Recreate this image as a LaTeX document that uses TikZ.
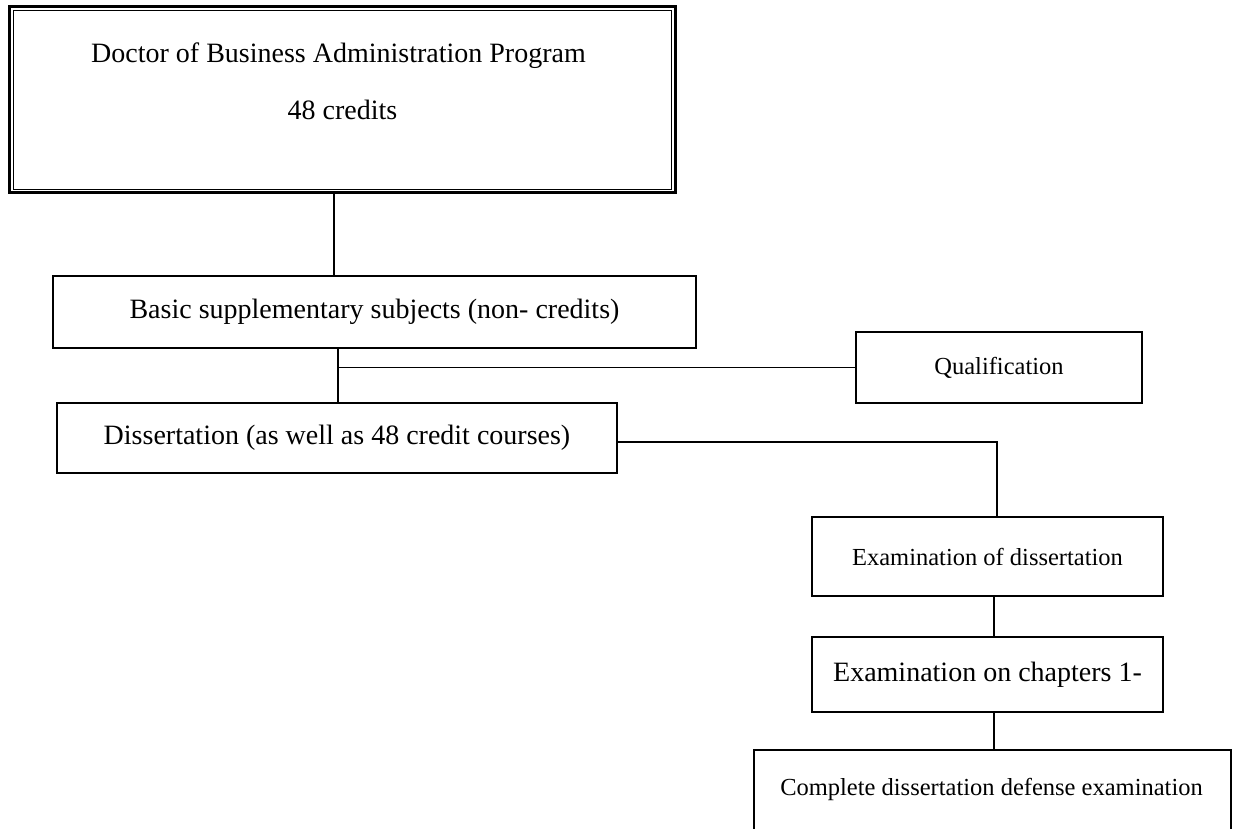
\documentclass[tikz,border=0pt]{standalone}
\usepackage{fontspec}
\setmainfont{Liberation Serif}
\usetikzlibrary{calc}
\begin{document}
\begin{tikzpicture}[x=1pt,y=-1pt,
  box/.style={draw=black, line width=2pt, rectangle, inner sep=0pt, fill=white},
  big/.style={font=\fontsize{28}{34}\selectfont},
  small/.style={font=\fontsize{24.5}{30}\selectfont},
  conn/.style={draw=black, line width=1.8pt}]
\useasboundingbox (0,0) rectangle (1237,829);
\fill[white] (0,0) rectangle (1237,829);
\clip (0,0) rectangle (1237,829);
% top box with double border
\node[draw=black, line width=3pt, rectangle, inner sep=0pt, minimum width=665.5pt, minimum height=186pt] (top) at (342.25,99.5) {};
\draw[line width=1.5pt] ([shift={(5.5,5.5)}]top.north west) rectangle ([shift={(-5,-4.5)}]top.south east);
\node[big, anchor=base] (t1) at (338.5,63) {Doctor of Business Administration Program};
\node[big, anchor=base] (t2) at (342.5,120) {48 credits};
% boxes
\node[box, big, minimum width=643pt, minimum height=72pt] (basic) at (374.5,312) {Basic supplementary subjects (non- credits)};
\node[box, big, minimum width=560pt, minimum height=70.5pt] (diss) at (337,438) {Dissertation (as well as 48 credit courses)};
\node[box, small, minimum width=286pt, minimum height=71pt] (qual) at (999,367.5) {Qualification};
\node[box, small, minimum width=351pt, minimum height=79pt] (ex1) at (987.5,556.5) {Examination of dissertation};
\node[box, big, minimum width=351pt, minimum height=75pt] (ex2) at (987.5,674.5) {Examination on chapters 1-};
\node[box, minimum width=477pt, minimum height=160pt, anchor=north] (ex3) at (992.5,749) {};
\node[small, anchor=base] (ex3t) at (991.5,795) {Complete dissertation defense examination};
% connector positions
\coordinate (c1) at (334,0);
\coordinate (c2) at (338,0);
\coordinate (c3) at (997,0);
\coordinate (c4) at (994,0);
\coordinate (r3) at (0,442);
\draw[conn] (top.south -| c1) -- (basic.north -| c1);
\draw[conn] (basic.south -| c2) -- (diss.north -| c2);
\draw[conn] (c2 |- qual.west) -- (qual.west);
\draw[conn] (diss.east |- r3) -- (c3 |- r3) -- (ex1.north -| c3);
\draw[conn] (ex1.south -| c4) -- (ex2.north -| c4);
\draw[conn] (ex2.south -| c4) -- (ex3.north -| c4);
\end{tikzpicture}
\end{document}
